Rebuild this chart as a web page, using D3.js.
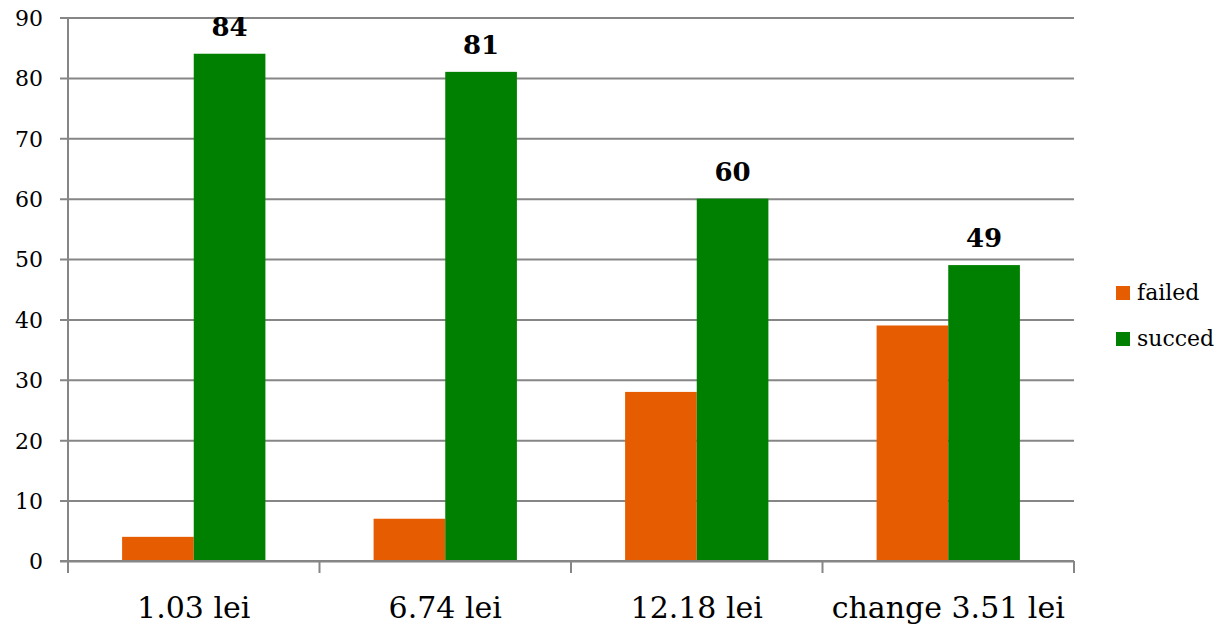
<!DOCTYPE html>
<html>
<head>
<meta charset="utf-8">
<script src="https://cdn.jsdelivr.net/npm/d3@7"></script>
<style>
  html, body { margin: 0; padding: 0; background: #fff; }
  svg { display: block; font-family: "DejaVu Serif", serif; }
</style>
</head>
<body>
<svg id="chart" width="1220" height="626"></svg>
<script>
// Categories and series
const categories = ["1.03 lei", "6.74 lei", "12.18 lei", "change 3.51 lei"];
const seriesNames = ["failed", "succed"];
const failedValues = [4, 7, 28, 39];
const succedValues = [84, 81, 60, 49];
const yTicks = [0, 10, 20, 30, 40, 50, 60, 70, 80, 90];
const colors = { failed: "#E65C00", succed: "#008000" };

const svg = d3.select("#chart");
const plot = { left: 68, right: 1074, top: 17.5, bottom: 561 };

const x = d3.scaleBand().domain(categories).range([plot.left, plot.right]).paddingInner(0).paddingOuter(0);
const inner = d3.scaleBand().domain(seriesNames).range([0, x.bandwidth()]).paddingInner(0).paddingOuter(0.755);
const y = d3.scaleLinear().domain([0, 90]).range([plot.bottom, plot.top]);

const gridColor = "#868686";

// Horizontal gridlines with outward tick marks (y axis)
const yAxis = d3.axisLeft(y).tickValues(yTicks).tickSize(-(plot.right - plot.left)).tickSizeOuter(0).tickPadding(25);
const gy = svg.append("g")
  .attr("transform", `translate(${plot.left},0)`)
  .call(yAxis)
  .attr("font-family", "DejaVu Serif")
  .attr("font-size", 22);
gy.select(".domain").remove();
gy.selectAll(".tick line").attr("x1", -8).attr("stroke", gridColor).attr("stroke-width", 2);
gy.selectAll(".tick text")
  .style("font-family", "'DejaVu Serif', serif")
  .style("font-size", "22px")
  .attr("dy", "0.36em")
  .attr("fill", "#000");

// Vertical axis line
svg.append("line")
  .attr("x1", plot.left).attr("x2", plot.left)
  .attr("y1", plot.top).attr("y2", plot.bottom + 12)
  .attr("stroke", gridColor).attr("stroke-width", 2);

// Category tick marks at band boundaries
const boundaries = categories.map(c => x(c) + x.bandwidth());
svg.append("g").selectAll("line").data(boundaries).join("line")
  .attr("x1", d => d).attr("x2", d => d)
  .attr("y1", plot.bottom).attr("y2", plot.bottom + 12)
  .attr("stroke", gridColor).attr("stroke-width", 2);

// Bars
const rows = categories.map((c, i) => ({ cat: c, failed: failedValues[i], succed: succedValues[i] }));
const groups = svg.append("g").selectAll("g").data(rows).join("g")
  .attr("transform", d => `translate(${x(d.cat)},0)`);

groups.selectAll("rect")
  .data(d => seriesNames.map(s => ({ key: s, value: d[s] })))
  .join("rect")
  .attr("x", d => inner(d.key))
  .attr("width", inner.bandwidth())
  .attr("y", d => y(d.value))
  .attr("height", d => y(0) - y(d.value))
  .attr("fill", d => colors[d.key]);

// Value labels above the succed bars
groups.append("text")
  .attr("x", inner("succed") + inner.bandwidth() / 2)
  .attr("y", d => y(d.succed) - 18)
  .attr("text-anchor", "middle")
  .style("font-family", "'DejaVu Serif', serif")
  .style("font-weight", "bold")
  .style("font-size", "26px")
  .text(d => d.succed);

// Redraw the zero line over the bars
svg.append("line")
  .attr("x1", plot.left - 8).attr("x2", plot.right)
  .attr("y1", y(0)).attr("y2", y(0))
  .attr("stroke", gridColor).attr("stroke-width", 2);

// Category labels
svg.append("g").selectAll("text").data(categories).join("text")
  .attr("x", d => x(d) + x.bandwidth() / 2)
  .attr("y", 618)
  .attr("text-anchor", "middle")
  .style("font-family", "'DejaVu Serif', serif")
  .style("font-size", "30px")
  .text(d => d);

// Legend
const legend = svg.append("g").selectAll("g").data(seriesNames).join("g")
  .attr("transform", (d, i) => `translate(1116,${286 + i * 46})`);
legend.append("rect").attr("width", 14).attr("height", 14).attr("fill", d => colors[d]);
legend.append("text")
  .attr("x", 21).attr("y", 14)
  .style("font-family", "'DejaVu Serif', serif")
  .style("font-size", "22px")
  .text(d => d);
</script>
</body>
</html>
